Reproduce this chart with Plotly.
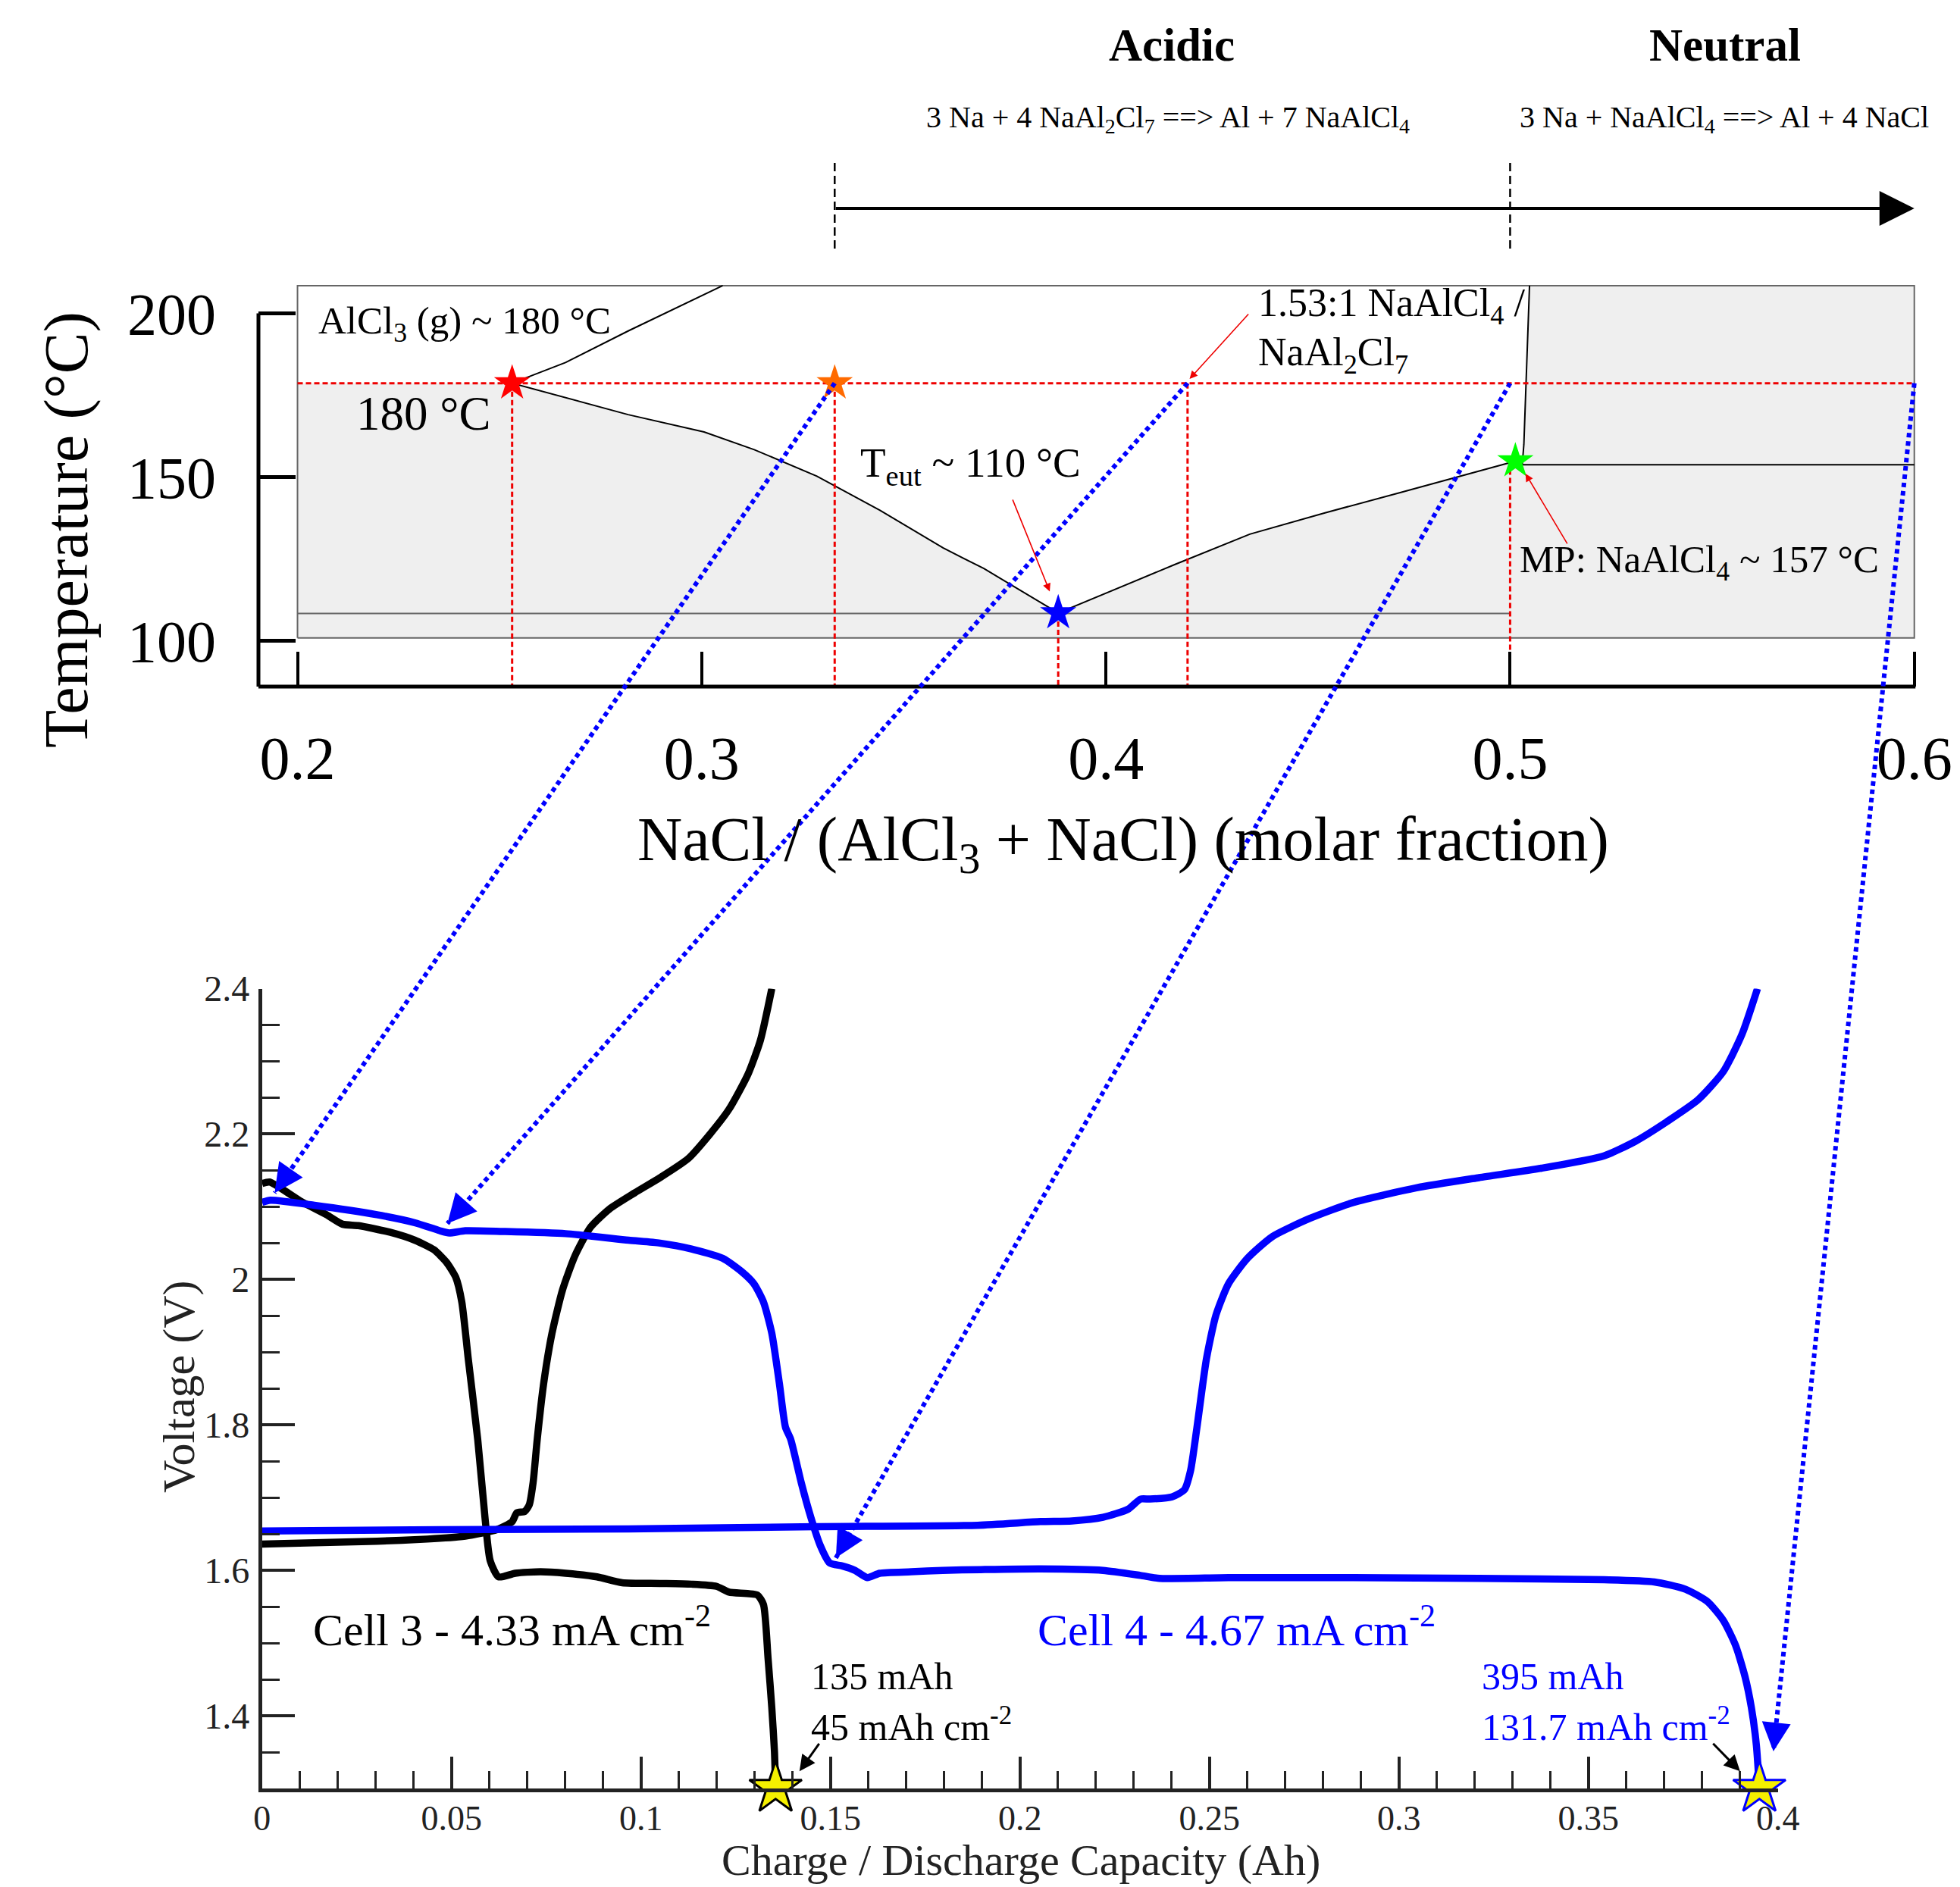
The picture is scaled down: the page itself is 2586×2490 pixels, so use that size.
import plotly.graph_objects as go

W, H = 2586, 2490
FONT = "Liberation Serif, Times New Roman, serif"

# ---------------- data: phase diagram (top) ----------------
liq_left_x = [0.2531, 0.2818, 0.3006, 0.3130, 0.3285, 0.3441, 0.3597, 0.3698, 0.3882]
liq_left_T = [178.7, 169.1, 163.8, 158.4, 150.3, 139.9, 128.4, 122.1, 108.5]
liq_right_x = [0.3882, 0.4170, 0.4356, 0.4542, 0.4728, 0.4914, 0.5013]
liq_right_T = [108.5, 123.3, 132.6, 139.1, 145.3, 151.5, 154.9]
gas_x = [0.2531, 0.2663, 0.2819, 0.3052]
gas_T = [178.7, 185.0, 194.7, 208.5]
vert_x = [0.5030, 0.5034, 0.5048]
vert_T = [153.8, 160.0, 208.5]
box_x = [0.2, 0.6]
box_T = [100.9, 208.5]
T_GAS = 178.7
T_EUT = 108.4
T_MP = 153.8

star_x = [0.2531, 0.3329, 0.3882, 0.5013]
star_T = [178.7, 178.7, 108.5, 154.9]
star_colors = ["#ff0000", "#ff6a00", "#0000ff", "#00ff00"]

mark_x = [0.2531, 0.3329, 0.3882, 0.4202, 0.5]
mark_top = [178.7, 178.7, 108.5, 178.7, 154.9]
mark_labels = ["~ 0.26", "~ 0.33", "~ 0.39", "~ 0.42", "0.50"]

top_xticks = [0.2, 0.3, 0.4, 0.5, 0.6]
top_xlabels = ["0.2", "0.3", "0.4", "0.5", "0.6"]
top_yticks = [100, 150, 200]

# ---------------- data: cycling curves (bottom) ----------------
c3_dis_q = [0.0, 0.002, 0.0104, 0.017, 0.0212, 0.0254, 0.0337, 0.0403, 0.0453, 0.0486, 0.0511,
            0.0527, 0.0544, 0.0569, 0.0589, 0.0602, 0.0624, 0.0668, 0.0735, 0.0801, 0.0884,
            0.095, 0.105, 0.1133, 0.1199, 0.1232, 0.1307, 0.1323, 0.1335, 0.1345, 0.1352, 0.1355]
c3_dis_v = [2.132, 2.134, 2.107, 2.089, 2.076, 2.074, 2.065, 2.054, 2.041, 2.024, 2.003,
            1.969, 1.891, 1.780, 1.668, 1.613, 1.591, 1.596, 1.598, 1.596, 1.591,
            1.583, 1.582, 1.581, 1.578, 1.570, 1.566, 1.553, 1.480, 1.411, 1.351, 1.300]
c3_chg_q = [0.0, 0.0138, 0.0303, 0.0436, 0.0536, 0.0619, 0.066, 0.0672, 0.0693, 0.0705, 0.0715,
            0.0726, 0.0743, 0.0765, 0.0793, 0.0826, 0.0867, 0.0917, 0.0983, 0.105, 0.1124,
            0.1182, 0.1232, 0.1282, 0.1315, 0.1345]
c3_chg_v = [1.636, 1.638, 1.640, 1.643, 1.647, 1.656, 1.667, 1.679, 1.681, 1.690, 1.720,
            1.780, 1.857, 1.926, 1.986, 2.033, 2.072, 2.097, 2.119, 2.140, 2.166,
            2.200, 2.234, 2.282, 2.329, 2.400]
c4_dis_q = [0.0, 0.0022, 0.0138, 0.0303, 0.0403, 0.0469, 0.0494, 0.0536, 0.0635, 0.0801, 0.0967,
            0.105, 0.1133, 0.1216, 0.1265, 0.1298, 0.1323, 0.1345, 0.1365, 0.1381, 0.1395,
            0.1423, 0.1448, 0.1473, 0.1498, 0.1531, 0.1564, 0.1597, 0.163, 0.1713, 0.1796,
            0.1896, 0.2054, 0.2219, 0.2318, 0.2368, 0.255, 0.288, 0.3211, 0.3541, 0.3674,
            0.3756, 0.3814, 0.3856, 0.3888, 0.3913, 0.393, 0.3943, 0.3951]
c4_dis_v = [2.106, 2.109, 2.102, 2.089, 2.078, 2.067, 2.064, 2.067, 2.066, 2.063, 2.054,
            2.050, 2.042, 2.029, 2.011, 1.994, 1.969, 1.926, 1.857, 1.797, 1.780,
            1.720, 1.673, 1.634, 1.610, 1.606, 1.600, 1.590, 1.596, 1.598, 1.600,
            1.601, 1.602, 1.600, 1.593, 1.589, 1.590, 1.590, 1.589, 1.587, 1.584,
            1.574, 1.557, 1.531, 1.497, 1.454, 1.411, 1.360, 1.300]
c4_chg_q = [0.0, 0.0469, 0.0967, 0.1464, 0.1888, 0.2054, 0.2137, 0.2219, 0.2285, 0.2318, 0.2343,
            0.2401, 0.2434, 0.245, 0.2467, 0.2492, 0.2517, 0.255, 0.26, 0.2666, 0.2765,
            0.288, 0.3046, 0.3211, 0.3376, 0.3541, 0.3624, 0.3707, 0.3789, 0.3856, 0.3905, 0.3946]
c4_chg_v = [1.654, 1.656, 1.657, 1.660, 1.662, 1.667, 1.668, 1.673, 1.684, 1.698, 1.698,
            1.701, 1.711, 1.737, 1.797, 1.891, 1.951, 1.994, 2.029, 2.059, 2.084,
            2.106, 2.126, 2.140, 2.153, 2.170, 2.190, 2.217, 2.247, 2.286, 2.337, 2.400]
end_q = [0.1355, 0.3951]
end_v = [1.30, 1.30]

bot_xticks = [0, 0.05, 0.1, 0.15, 0.2, 0.25, 0.3, 0.35, 0.4]
bot_xlabels = ["0", "0.05", "0.1", "0.15", "0.2", "0.25", "0.3", "0.35", "0.4"]
bot_yticks = [1.4, 1.6, 1.8, 2.0, 2.2, 2.4]
bot_ylabels = ["1.4", "1.6", "1.8", "2", "2.2", "2.4"]

# connectors: top point (phase diagram) -> bottom point (voltage curve)
conn_top_x = [0.3329, 0.4202, 0.5, 0.6]
conn_bot_q = [0.0033, 0.0489, 0.1514, 0.3988]
conn_bot_v = [2.119, 2.077, 1.617, 1.351]

# ---------------- layout geometry ----------------
TOP_X_DOM = [341 / W, 2552.4 / W]
TOP_X_RANGE = [0.19034, 0.605]
TOP_Y_DOM = [1 - 906 / H, 1 - 370.4 / H]
TOP_Y_RANGE = [86.04, 210.0]
BOT_X_DOM = [345.8 / W, 2345.8 / W]
BOT_X_RANGE = [0.0, 0.4]
BOT_Y_DOM = [1 - 2360 / H, 1 - 1304.5 / H]
BOT_Y_RANGE = [1.3, 2.4]


def _map(v, rng, dom):
    return dom[0] + (v - rng[0]) / (rng[1] - rng[0]) * (dom[1] - dom[0])


def top_paper(x, y):
    return _map(x, TOP_X_RANGE, TOP_X_DOM), _map(y, TOP_Y_RANGE, TOP_Y_DOM)


def bot_paper(x, y):
    return _map(x, BOT_X_RANGE, BOT_X_DOM), _map(y, BOT_Y_RANGE, BOT_Y_DOM)


def px(xp):
    return xp / W


def py(yp):
    return 1 - yp / H


fig = go.Figure()

# ---- top: gray solid region ----
fill_x = [0.2, 0.2] + liq_left_x + liq_right_x[1:] + vert_x + [0.6, 0.6, 0.2]
fill_T = [box_T[0], T_GAS] + liq_left_T + liq_right_T[1:] + vert_T + [box_T[1], box_T[0], box_T[0]]
fig.add_trace(go.Scatter(x=fill_x, y=fill_T, fill="toself", fillcolor="#efefef",
                         line=dict(width=0), mode="lines", hoverinfo="skip",
                         xaxis="x", yaxis="y", showlegend=False))
# box outline
fig.add_trace(go.Scatter(x=[box_x[0], box_x[1], box_x[1], box_x[0], box_x[0]],
                         y=[box_T[0], box_T[0], box_T[1], box_T[1], box_T[0]],
                         mode="lines", line=dict(color="#666666", width=2),
                         xaxis="x", yaxis="y", showlegend=False))
# eutectic line
fig.add_trace(go.Scatter(x=[0.2, 0.5], y=[T_EUT, T_EUT], mode="lines",
                         line=dict(color="#666666", width=2), xaxis="x", yaxis="y", showlegend=False))
# phase boundaries
fig.add_trace(go.Scatter(x=liq_left_x + liq_right_x[1:], y=liq_left_T + liq_right_T[1:],
                         mode="lines", line=dict(color="black", width=2),
                         xaxis="x", yaxis="y", showlegend=False))
fig.add_trace(go.Scatter(x=gas_x, y=gas_T, mode="lines", line=dict(color="black", width=2),
                         xaxis="x", yaxis="y", showlegend=False))
fig.add_trace(go.Scatter(x=vert_x, y=vert_T, mode="lines", line=dict(color="black", width=2),
                         xaxis="x", yaxis="y", showlegend=False))
fig.add_trace(go.Scatter(x=[vert_x[0], 0.6], y=[T_MP, T_MP], mode="lines",
                         line=dict(color="black", width=2), xaxis="x", yaxis="y", showlegend=False))
# red dotted guide lines
rx, ry = [0.2, 0.6, None], [T_GAS, T_GAS, None]
for mx, mt in zip(mark_x, mark_top):
    rx += [mx, mx, None]
    ry += [mt, TOP_Y_RANGE[0], None]
fig.add_trace(go.Scatter(x=rx, y=ry, mode="lines",
                         line=dict(color="#ee0000", width=3, dash="7px,4px"),
                         xaxis="x", yaxis="y", showlegend=False))
# stars
fig.add_trace(go.Scatter(x=star_x, y=star_T, mode="markers",
                         marker=dict(symbol="star", size=36, color=star_colors, line=dict(width=0)),
                         cliponaxis=False, xaxis="x", yaxis="y", showlegend=False))

# ---- bottom: voltage curves ----
for q, v, c in [(c3_chg_q, c3_chg_v, "black"), (c3_dis_q, c3_dis_v, "black"),
                (c4_chg_q, c4_chg_v, "#0000ff"), (c4_dis_q, c4_dis_v, "#0000ff")]:
    fig.add_trace(go.Scatter(x=q, y=v, mode="lines", line=dict(color=c, width=9.5, shape="spline",
                                                               smoothing=0.6),
                             xaxis="x2", yaxis="y2", showlegend=False))
fig.add_trace(go.Scatter(x=end_q, y=end_v, mode="markers",
                         marker=dict(symbol="star", size=52, color="#f5f000",
                                     line=dict(color=["black", "#0000ff"], width=3)),
                         cliponaxis=False, xaxis="x2", yaxis="y2", showlegend=False))

shapes = []
annotations = []

# ---- axis lines for top plot (offset frame) ----
yl_x, yl_top = top_paper(TOP_X_RANGE[0], 200)
_, yl_bot = top_paper(TOP_X_RANGE[0], TOP_Y_RANGE[0])
shapes.append(dict(type="line", xref="paper", yref="paper", x0=yl_x, x1=yl_x, y0=yl_top, y1=yl_bot,
                   line=dict(color="black", width=5)))
xr_end, _ = top_paper(0.6, TOP_Y_RANGE[0])
shapes.append(dict(type="line", xref="paper", yref="paper", x0=yl_x, x1=xr_end + 1.5 / W,
                   y0=yl_bot, y1=yl_bot, line=dict(color="black", width=5)))

# ---- header: acidic / neutral arrow ----
hx0, _ = top_paper(0.3329, 0)
hx1, _ = top_paper(0.5, 0)
for hx in (hx0, hx1):
    shapes.append(dict(type="line", xref="paper", yref="paper", x0=hx, x1=hx, y0=py(215), y1=py(332),
                       line=dict(color="black", width=2.5, dash="11px,6px")))
hend, _ = top_paper(0.6, 0)
annotations.append(dict(xref="paper", yref="paper", x=hend, y=py(275), ax=(hx0 - hend) * W, ay=0,
                        axref="pixel", ayref="pixel", text="", showarrow=True, arrowhead=2,
                        arrowsize=2.3, arrowwidth=4, arrowcolor="black"))
annotations += [
    dict(xref="paper", yref="paper", x=px(1546), y=py(60), text="<b>Acidic</b>", showarrow=False,
         font=dict(size=61, color="black", family=FONT), xanchor="center", yanchor="middle"),
    dict(xref="paper", yref="paper", x=px(2276), y=py(60), text="<b>Neutral</b>", showarrow=False,
         font=dict(size=61, color="black", family=FONT), xanchor="center", yanchor="middle"),
    dict(xref="paper", yref="paper", x=px(1541), y=py(157),
         text="3 Na + 4 NaAl<sub>2</sub>Cl<sub>7</sub> ==> Al + 7 NaAlCl<sub>4</sub>", showarrow=False,
         font=dict(size=40, color="black", family=FONT), xanchor="center", yanchor="middle"),
    dict(xref="paper", yref="paper", x=px(2275), y=py(157),
         text="3 Na + NaAlCl<sub>4</sub> ==> Al + 4 NaCl", showarrow=False,
         font=dict(size=40, color="black", family=FONT), xanchor="center", yanchor="middle"),
]

# ---- top plot text ----
annotations += [
    dict(xref="x", yref="y", x=0.2047, y=196.9, text="AlCl<sub>3</sub> (g) ~ 180 °C", showarrow=False,
         font=dict(size=51, color="black", family=FONT), xanchor="left", yanchor="middle"),
    dict(xref="x", yref="y", x=0.2142, y=169.4, text="180 °C", showarrow=False,
         font=dict(size=63, color="black", family=FONT), xanchor="left", yanchor="middle"),
    dict(xref="x", yref="y", x=0.3388, y=153.4, text="T<sub>eut</sub> ~ 110 °C", showarrow=False,
         font=dict(size=55, color="black", family=FONT), xanchor="left", yanchor="middle"),
    dict(xref="x", yref="y", x=0.4372, y=202.4, text="1.53:1 NaAlCl<sub>4</sub> /", showarrow=False,
         font=dict(size=52, color="black", family=FONT), xanchor="left", yanchor="middle"),
    dict(xref="x", yref="y", x=0.4372, y=187.4, text="NaAl<sub>2</sub>Cl<sub>7</sub>", showarrow=False,
         font=dict(size=52, color="black", family=FONT), xanchor="left", yanchor="middle"),
    dict(xref="x", yref="y", x=0.5020, y=124.0, text="MP: NaAlCl<sub>4</sub> ~ 157 °C", showarrow=False,
         font=dict(size=51, color="black", family=FONT), xanchor="left", yanchor="middle"),
]
for mx, lab in zip(mark_x, mark_labels):
    annotations.append(dict(xref="x", yref="y", x=mx, y=77.7, text=lab, showarrow=False,
                            font=dict(size=44, color="#ee0000", family=FONT),
                            xanchor="center", yanchor="middle"))
# red pointer arrows
for hx, hy, ox, oy in [(0.4207, 180.0, 79, -87), (0.3861, 115.1, -49.5, -122.6), (0.5038, 151.1, 56, 94)]:
    hpx, hpy = top_paper(hx, hy)
    annotations.append(dict(xref="paper", yref="paper", x=hpx, y=hpy, ax=ox, ay=oy, axref="pixel",
                            ayref="pixel", text="", showarrow=True, arrowhead=2, arrowsize=1.3,
                            arrowwidth=1.6, arrowcolor="#ee0000"))

# ---- axis titles ----
annotations += [
    dict(xref="paper", yref="paper", x=px(87), y=py(699), text="Temperature (°C)", textangle=-90,
         showarrow=False, font=dict(size=82, color="black", family=FONT), xanchor="center", yanchor="middle"),
    dict(xref="paper", yref="paper", x=px(1482), y=py(1113),
         text="NaCl / (AlCl<sub>3</sub> + NaCl) (molar fraction)",
         showarrow=False, font=dict(size=82, color="black", family=FONT), xanchor="center", yanchor="middle"),
    dict(xref="paper", yref="paper", x=px(236), y=py(1830), text="Voltage (V)", textangle=-90,
         showarrow=False, font=dict(size=60, color="#222222", family=FONT), xanchor="center", yanchor="middle"),
    dict(xref="paper", yref="paper", x=px(1347), y=py(2454), text="Charge / Discharge Capacity (Ah)",
         showarrow=False, font=dict(size=58, color="#222222", family=FONT), xanchor="center", yanchor="middle"),
]

# ---- bottom plot text ----
annotations += [
    dict(xref="x2", yref="y2", x=0.0130, y=1.522, text="Cell 3 - 4.33 mA cm<sup>-2</sup>", showarrow=False,
         font=dict(size=60, color="black", family=FONT), xanchor="left", yanchor="middle"),
    dict(xref="x2", yref="y2", x=0.2042, y=1.522, text="Cell 4 - 4.67 mA cm<sup>-2</sup>", showarrow=False,
         font=dict(size=60, color="#0000ff", family=FONT), xanchor="left", yanchor="middle"),
    dict(xref="x2", yref="y2", x=0.1444, y=1.454, text="135 mAh", showarrow=False,
         font=dict(size=50, color="black", family=FONT), xanchor="left", yanchor="middle"),
    dict(xref="x2", yref="y2", x=0.1444, y=1.388, text="45 mAh cm<sup>-2</sup>", showarrow=False,
         font=dict(size=50, color="black", family=FONT), xanchor="left", yanchor="middle"),
    dict(xref="x2", yref="y2", x=0.3214, y=1.454, text="395 mAh", showarrow=False,
         font=dict(size=50, color="#0000ff", family=FONT), xanchor="left", yanchor="middle"),
    dict(xref="x2", yref="y2", x=0.3214, y=1.388, text="131.7 mAh cm<sup>-2</sup>", showarrow=False,
         font=dict(size=50, color="#0000ff", family=FONT), xanchor="left", yanchor="middle"),
    dict(xref="x2", yref="y2", x=0.1418, y=1.3237, ax=0.1472, ay=1.3633, axref="x2", ayref="y2",
         text="", showarrow=True, arrowhead=2, arrowsize=1.4, arrowwidth=3, arrowcolor="black"),
    dict(xref="x2", yref="y2", x=0.3900, y=1.3237, ax=0.3826, ay=1.3633, axref="x2", ayref="y2",
         text="", showarrow=True, arrowhead=2, arrowsize=1.4, arrowwidth=3, arrowcolor="black"),
]

# ---- blue dotted connectors with arrowheads ----
for tx, bq, bv in zip(conn_top_x, conn_bot_q, conn_bot_v):
    x0, y0 = top_paper(tx, T_GAS)
    x1, y1 = bot_paper(bq, bv)
    shapes.append(dict(type="line", xref="paper", yref="paper", x0=x0, y0=y0, x1=x1, y1=y1,
                       line=dict(color="#0000ff", width=6, dash="6px,5px")))
    dxp = (x0 - x1) * W
    dyp = -(y0 - y1) * H
    L = (dxp ** 2 + dyp ** 2) ** 0.5
    annotations.append(dict(xref="paper", yref="paper", x=x1, y=y1, ax=dxp / L * 30, ay=dyp / L * 30,
                            axref="pixel", ayref="pixel", text="", showarrow=True, arrowhead=2,
                            arrowsize=1.9, arrowwidth=4, arrowcolor="#0000ff"))

fig.update_layout(
    width=W, height=H, margin=dict(l=0, r=0, t=0, b=0, autoexpand=False),
    paper_bgcolor="white", plot_bgcolor="rgba(0,0,0,0)",
    font=dict(family=FONT, color="black"),
    showlegend=False,
    shapes=shapes, annotations=annotations,
    xaxis=dict(domain=TOP_X_DOM, range=TOP_X_RANGE, anchor="y", showline=False, showgrid=False,
               automargin=False,
               zeroline=False, tickmode="array", tickvals=top_xticks, ticktext=top_xlabels,
               ticks="inside", ticklen=46, tickwidth=4, tickcolor="black",
               tickfont=dict(size=80, color="black", family=FONT), ticklabelstandoff=41),
    yaxis=dict(domain=TOP_Y_DOM, range=TOP_Y_RANGE, anchor="x", showline=False, showgrid=False,
               automargin=False,
               zeroline=False, tickmode="array", tickvals=top_yticks,
               ticks="inside", ticklen=49, tickwidth=5, tickcolor="black",
               tickfont=dict(size=78, color="black", family=FONT), ticklabelstandoff=55),
    xaxis2=dict(domain=BOT_X_DOM, range=BOT_X_RANGE, anchor="y2", showline=True, linewidth=5,
                automargin=False,
                linecolor="#222222", showgrid=False, zeroline=False, tickmode="array",
                tickvals=bot_xticks, ticktext=bot_xlabels, ticks="inside", ticklen=42, tickwidth=4,
                tickcolor="#222222", tickfont=dict(size=46, color="#222222", family=FONT),
                ticklabelstandoff=-5,
                minor=dict(ticks="inside", ticklen=23, tickwidth=3, tickcolor="#222222",
                           dtick=0.01, tick0=0, showgrid=False)),
    yaxis2=dict(domain=BOT_Y_DOM, range=BOT_Y_RANGE, anchor="x2", showline=True, linewidth=5,
                automargin=False,
                linecolor="#222222", showgrid=False, zeroline=False, tickmode="array",
                tickvals=bot_yticks, ticktext=bot_ylabels, ticks="inside", ticklen=43, tickwidth=4,
                tickcolor="#222222", tickfont=dict(size=48, color="#222222", family=FONT),
                ticklabelstandoff=2,
                minor=dict(ticks="inside", ticklen=23, tickwidth=3, tickcolor="#222222",
                           dtick=0.05, tick0=1.3, showgrid=False)),
)

fig.write_html("out.html")
